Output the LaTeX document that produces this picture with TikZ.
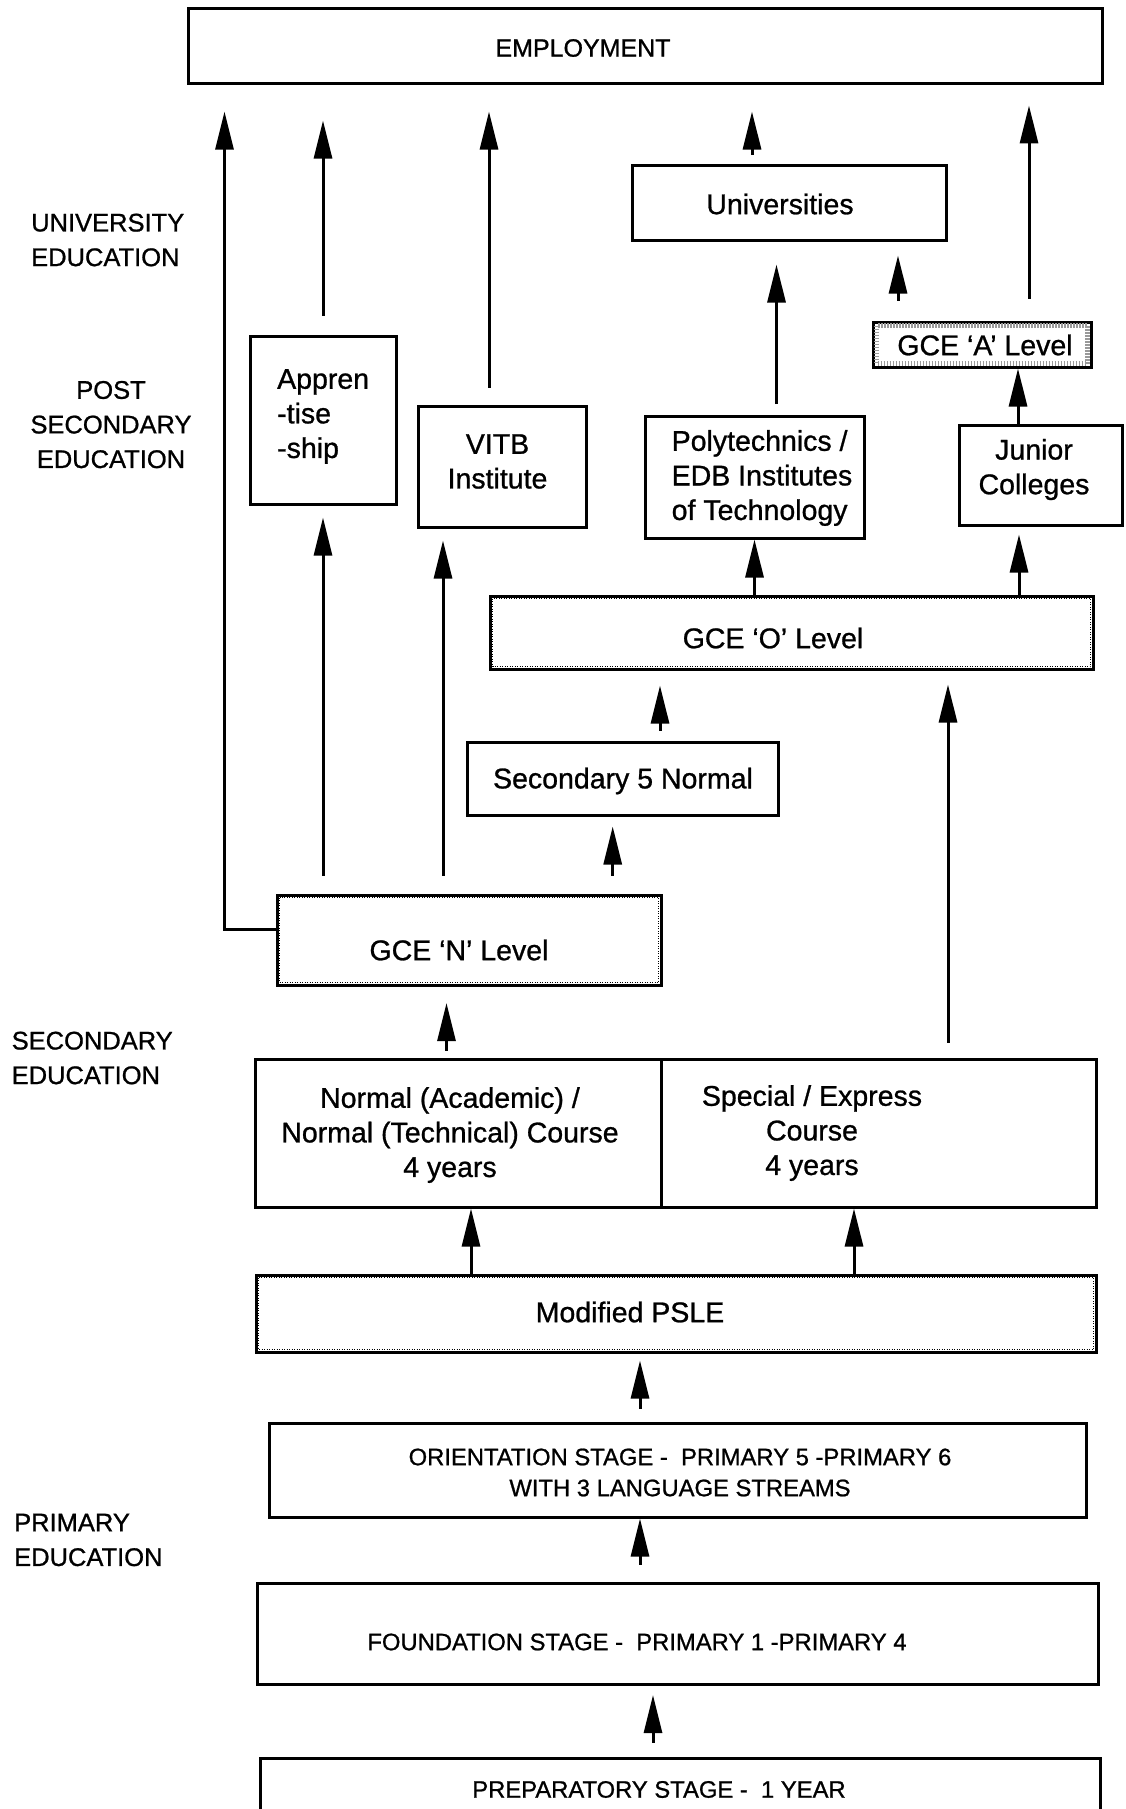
\documentclass[tikz,border=0pt]{standalone}
\usepackage{fontspec}
\setmainfont{Liberation Sans}[FakeBold=0.9]
\usetikzlibrary{fit,arrows.meta}
\begin{document}
\begin{tikzpicture}[x=1pt,y=-1pt,
  box/.style={draw, line width=3pt, inner sep=0pt},
  arr/.style={line width=3pt, -{Triangle[length=38pt,width=18pt]}},
  lc/.style={font=\fontsize{28.5}{34.6}\selectfont, inner sep=0pt, align=center},
  caps/.style={font=\fontsize{23.8}{31}\selectfont, inner sep=0pt, align=center},
  side/.style={font=\fontsize{25.5}{34.6}\selectfont, inner sep=0pt, align=left},
  stipple/.style={line width=1pt, dash pattern=on 1pt off 1.5pt}
]
\useasboundingbox (0,0) rectangle (1125,1809);
\fill[white] (0,0) rectangle (1125,1809);

% boxes
\node[box, fit={(188,9) (1102,84)}] (emp) {};
\node[box, fit={(632,165) (946,240)}] (univ) {};
\node[box, fit={(873,322) (1091,367)}] (gceA) {};
\node[box, fit={(959,425) (1122,525)}] (jc) {};
\node[box, fit={(250,336) (396,504)}] (app) {};
\node[box, fit={(418,406) (586,527)}] (vitb) {};
\node[box, fit={(645,416) (864,538)}] (poly) {};
\node[box, fit={(490,596) (1093,669)}] (gceO) {};
\node[box, fit={(467,742) (778,815)}] (sec5) {};
\node[box, fit={(277,895) (661,985)}] (gceN) {};
\node[box, fit={(255,1059) (661,1207)}] (courseL) {};
\node[box, fit={(661,1059) (1096,1207)}] (courseR) {};
\node[box, fit={(256,1275) (1096,1352)}] (psle) {};
\node[box, fit={(269,1423) (1086,1517)}] (orient) {};
\node[box, fit={(257,1583) (1098,1684)}] (found) {};
\node[box, fit={(260,1758) (1100,1840)}] (prep) {};

% stippled inner borders of the examination boxes
\foreach \b in {gceO,gceN,psle}
  \draw[stipple] ([shift={(4pt,-4pt)}]\b.north west) rectangle ([shift={(-4pt,4pt)}]\b.south east);
\draw[gray!80, line width=5pt, dash pattern=on 1.5pt off 1.5pt]
  ([shift={(5pt,-5pt)}]gceA.north west) rectangle ([shift={(-5pt,5pt)}]gceA.south east);

% box texts
\node[inner sep=0pt, font=\fontsize{25}{30}\selectfont] (empT) at (583,48) {EMPLOYMENT};
\node[lc] (univT) at (780,204) {Universities};
\node[lc] (gceAT) at (985,345) {GCE `A' Level};
\node[lc] (jcT) at (1034,469.5) {Junior\\Colleges};
\node[lc, align=left, anchor=west] (appT) at (277,416.5) {Appren\\-tise\\-ship};
\node[lc] (vitbT) at (497.5,461.5) {VITB\\Institute};
\node[lc, align=left, anchor=west] (polyT) at (671.5,478) {Polytechnics /\\EDB Institutes\\of Technology};
\node[lc] (gceOT) at (773,638) {GCE `O' Level};
\node[lc] (sec5T) at (623,781) {Secondary 5 Normal};
\node[lc] (gceNT) at (459,950) {GCE `N' Level};
\node[lc] (courseLT) at (450,1135) {Normal (Academic) /\\Normal (Technical) Course\\4 years};
\node[lc] (courseRT) at (812,1133) {Special / Express\\Course\\4 years};
\node[lc] (psleT) at (630,1312) {Modified PSLE};
\node[caps] (orientT) at (680,1472.5) {ORIENTATION STAGE -\ \ PRIMARY 5 -PRIMARY 6\\WITH 3 LANGUAGE STREAMS};
\node[caps] (foundT) at (637,1642) {FOUNDATION STAGE -\ \ PRIMARY 1 -PRIMARY 4};
\node[caps] (prepT) at (659,1789.5) {PREPARATORY STAGE -\ \ 1 YEAR};

% stage labels
\node[side, anchor=west] (lUni) at (31,240) {UNIVERSITY\\EDUCATION};
\node[side, align=center] (lPost) at (111,424.6) {POST\\SECONDARY\\EDUCATION};
\node[side, anchor=west] (lSec) at (11.5,1058) {SECONDARY\\EDUCATION};
\node[side, anchor=west] (lPri) at (14,1540) {PRIMARY\\EDUCATION};

% routes into employment
\draw[arr, shorten >=26pt] ([yshift=11pt]gceN.west) -| ([xshift=38pt]emp.south west);
\draw[arr, shorten <=19pt, shorten >=35pt] (app.north) -- (app.north |- emp.south);
\draw[arr, shorten <=17pt, shorten >=26pt] ([xshift=-13pt]vitb.north) -- ([xshift=-13pt]vitb.north |- emp.south);
\draw[arr, shorten <=9pt, shorten >=26pt] ([xshift=-37pt]univ.north) -- ([xshift=-37pt]univ.north |- emp.south);
\draw[arr, shorten <=22pt, shorten >=20pt] ([xshift=47pt]gceA.north) -- ([xshift=47pt]gceA.north |- emp.south);

% post secondary to university
\draw[arr, shorten <=10.5pt, shorten >=23pt] ([xshift=22pt]poly.north) -- ([xshift=22pt]poly.north |- univ.south);
\draw[arr, shorten <=20pt, shorten >=14pt] ([xshift=-84pt]gceA.north) -- ([xshift=-84pt]gceA.north |- univ.south);
\draw[arr] ([xshift=-22.5pt]jc.north) -- ([xshift=-22.5pt]jc.north |- gceA.south);

% secondary to post secondary
\draw[arr, shorten <=18pt, shorten >=12pt] ([xshift=-146pt]gceN.north) -- ([xshift=-146pt]gceN.north |- app.south);
\draw[arr, shorten <=18pt, shorten >=12pt] ([xshift=-26pt]gceN.north) -- ([xshift=-26pt]gceN.north |- vitb.south);
\draw[arr] ([xshift=-37pt]gceO.north) -- ([xshift=-37pt]gceO.north |- poly.south);
\draw[arr, shorten >=8pt] ([xshift=227.5pt]gceO.north) -- ([xshift=227.5pt]gceO.north |- jc.south);
\draw[arr, shorten <=10pt, shorten >=15pt] ([xshift=37.5pt]sec5.north) -- ([xshift=37.5pt]sec5.north |- gceO.south);
\draw[arr, shorten <=15pt, shorten >=14pt] ([xshift=69.5pt]courseR.north) -- ([xshift=69.5pt]courseR.north |- gceO.south);
\draw[arr, shorten <=18pt, shorten >=10pt] ([xshift=143.7pt]gceN.north) -- ([xshift=143.7pt]gceN.north |- sec5.south);
\draw[arr, shorten <=7pt, shorten >=16.5pt] ([xshift=-11.5pt]courseL.north) -- ([xshift=-11.5pt]courseL.north |- gceN.south);

% primary to secondary
\draw[arr] ([xshift=-205pt]psle.north) -- ([xshift=-205pt]psle.north |- courseL.south);
\draw[arr] ([xshift=178pt]psle.north) -- ([xshift=178pt]psle.north |- courseR.south);
\draw[arr, shorten <=13pt, shorten >=7pt] ([xshift=-37.5pt]orient.north) -- ([xshift=-37.5pt]orient.north |- psle.south);
\draw[arr, shorten <=17pt] ([xshift=-37.5pt]found.north) -- ([xshift=-37.5pt]found.north |- orient.south);
\draw[arr, shorten <=14pt, shorten >=9.5pt] ([xshift=-27pt]prep.north) -- ([xshift=-27pt]prep.north |- found.south);
\end{tikzpicture}
\end{document}
